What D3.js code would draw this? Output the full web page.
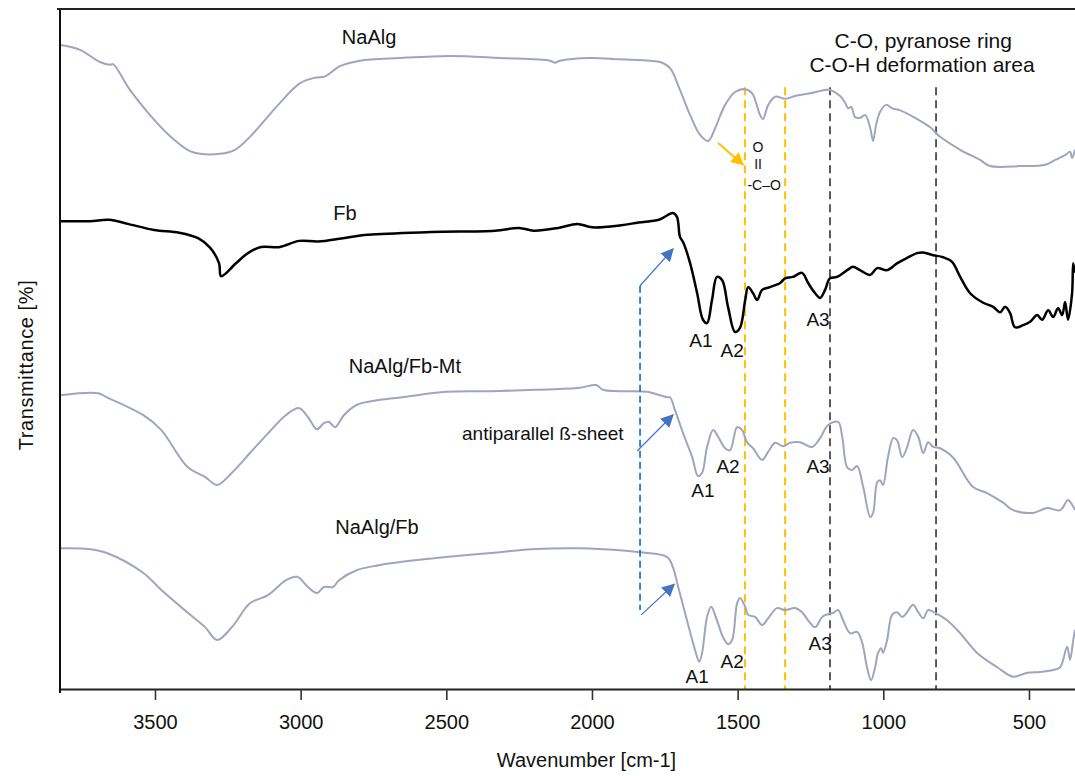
<!DOCTYPE html>
<html>
<head>
<meta charset="utf-8">
<script src="https://cdn.jsdelivr.net/npm/d3@7"></script>
<style>
  body { margin: 0; background: #fff; }
  text { font-family: "Liberation Sans", Arial, sans-serif; fill: #111; }
</style>
</head>
<body>
<svg id="chart" width="1075" height="776"></svg>
<script>
"use strict";

// spectra, [wavenumber cm-1, transmittance (stacked, %)]
var naAlg = [
  [3826, 94.7], [3757, 94.0], [3689, 92.2], [3654, 91.8], [3644, 91.9], [3586, 88.1],
  [3517, 84.4], [3448, 81.3], [3380, 79.1], [3345, 78.7], [3277, 78.7], [3225, 79.3],
  [3174, 81.2], [3122, 83.7], [3071, 86.2], [3002, 89.1], [2951, 89.9], [2916, 90.1],
  [2865, 91.6], [2796, 92.4], [2659, 92.8], [2487, 93.1], [2316, 92.8], [2144, 92.4],
  [2127, 92.1], [2110, 92.4], [2007, 92.8], [1904, 92.6], [1801, 92.4], [1766, 92.2],
  [1732, 91.3], [1698, 88.1], [1663, 84.4], [1629, 81.5], [1601, 80.6], [1577, 82.5],
  [1543, 85.9], [1509, 87.8], [1474, 88.2], [1450, 87.6], [1423, 84.4], [1413, 83.8],
  [1395, 85.9], [1371, 87.1], [1337, 86.8], [1303, 87.2], [1251, 87.6], [1200, 88.1],
  [1183, 88.1], [1148, 87.2], [1131, 86.2], [1121, 85.4], [1110, 85.6], [1097, 84.1],
  [1080, 84.0], [1062, 84.4], [1045, 82.5], [1035, 80.6], [1025, 82.9], [1011, 84.9],
  [990, 85.9], [970, 85.4], [942, 85.1], [891, 84.0], [839, 82.6], [805, 81.2],
  [736, 79.3], [668, 77.8], [633, 76.9], [530, 76.9], [444, 77.1], [410, 77.8],
  [376, 78.5], [359, 79.0], [352, 78.1], [342, 79.3]
];

var fb = [
  [3826, 68.8], [3723, 68.8], [3658, 69.0], [3593, 68.4], [3503, 67.5], [3417, 67.1],
  [3352, 66.3], [3311, 64.9], [3280, 62.6], [3273, 60.7], [3222, 62.6], [3181, 64.1],
  [3136, 65.0], [3071, 65.0], [3005, 65.9], [2940, 65.8], [2855, 66.3], [2769, 66.8],
  [2552, 67.2], [2333, 67.4], [2250, 67.8], [2200, 67.4], [2116, 67.8], [2050, 68.4],
  [2000, 67.9], [1900, 68.2], [1840, 68.6], [1770, 69.0], [1722, 70.0], [1708, 69.4],
  [1698, 66.5], [1687, 65.7], [1663, 62.6], [1639, 58.2], [1619, 54.3], [1605, 53.8],
  [1588, 57.2], [1571, 60.6], [1553, 60.1], [1533, 56.2], [1509, 52.5], [1492, 53.1],
  [1474, 57.2], [1464, 59.1], [1447, 58.2], [1433, 57.2], [1416, 58.7], [1389, 59.1],
  [1354, 59.7], [1337, 60.4], [1310, 60.6], [1279, 61.2], [1258, 59.7], [1234, 58.2],
  [1217, 57.5], [1200, 58.7], [1183, 60.4], [1159, 60.6], [1124, 61.6], [1104, 62.1],
  [1080, 61.6], [1045, 60.9], [1021, 61.9], [987, 61.6], [953, 62.6], [918, 63.4],
  [884, 64.1], [863, 64.2], [829, 63.8], [795, 63.5], [764, 62.8], [736, 60.6],
  [702, 58.2], [657, 56.8], [623, 56.2], [599, 55.4], [582, 56.2], [565, 55.3],
  [548, 53.2], [520, 53.5], [496, 54.0], [472, 55.0], [455, 54.3], [434, 55.7],
  [417, 54.7], [400, 56.0], [386, 55.0], [376, 56.9], [366, 54.3], [352, 58.2],
  [348, 62.6], [342, 61.2]
];

var naAlgFbMt = [
  [3826, 43.2], [3696, 43.5], [3665, 42.9], [3541, 40.3], [3479, 38.1], [3387, 32.6],
  [3328, 31.2], [3287, 30.0], [3236, 31.8], [3174, 34.7], [3112, 37.6], [3050, 40.3],
  [3005, 41.3], [2975, 40.0], [2944, 38.2], [2920, 39.1], [2903, 39.3], [2882, 38.5],
  [2851, 40.3], [2806, 41.8], [2731, 42.5], [2652, 42.9], [2501, 43.7], [2346, 43.8],
  [2192, 44.0], [2041, 44.3], [1986, 44.7], [1962, 44.0], [1904, 43.8], [1811, 43.7],
  [1742, 42.9], [1732, 42.9], [1715, 41.0], [1687, 37.6], [1656, 34.1], [1636, 31.3],
  [1622, 31.8], [1605, 35.6], [1584, 38.1], [1567, 37.1], [1543, 35.4], [1526, 35.1],
  [1502, 38.5], [1485, 38.1], [1468, 36.3], [1447, 35.4], [1416, 33.7], [1395, 34.9],
  [1371, 36.2], [1344, 35.7], [1320, 36.2], [1286, 36.3], [1244, 35.6], [1217, 36.9],
  [1190, 38.8], [1155, 39.3], [1141, 37.1], [1124, 32.6], [1107, 32.2], [1090, 32.8],
  [1069, 29.7], [1045, 25.3], [1035, 25.9], [1021, 30.4], [1011, 30.7], [1001, 30.0],
  [984, 34.1], [966, 36.9], [953, 36.6], [935, 34.1], [918, 35.6], [898, 38.1],
  [880, 37.1], [863, 34.7], [846, 36.3], [829, 35.6], [805, 35.4], [760, 34.0],
  [692, 29.7], [644, 28.8], [589, 27.4], [554, 26.3], [486, 25.9], [438, 26.6],
  [393, 26.3], [366, 27.8], [352, 27.1], [342, 26.3]
];

var naAlgFb = [
  [3826, 20.7], [3727, 20.6], [3665, 20.0], [3541, 17.1], [3479, 14.6], [3387, 11.2],
  [3328, 9.1], [3287, 7.2], [3236, 9.1], [3174, 12.6], [3112, 13.8], [3050, 16.0],
  [3012, 16.5], [2975, 15.0], [2944, 14.1], [2920, 15.0], [2889, 15.0], [2868, 16.0],
  [2806, 17.5], [2731, 18.2], [2652, 18.7], [2501, 19.4], [2346, 20.0], [2192, 20.6],
  [2041, 20.7], [1904, 20.4], [1835, 20.1], [1742, 19.4], [1722, 17.9], [1704, 15.0],
  [1674, 10.1], [1646, 5.7], [1632, 4.0], [1622, 5.3], [1605, 10.6], [1591, 12.1],
  [1571, 10.1], [1550, 7.6], [1533, 6.6], [1519, 7.2], [1502, 12.6], [1492, 13.4],
  [1474, 12.1], [1464, 10.9], [1440, 10.6], [1416, 9.4], [1395, 10.4], [1365, 11.9],
  [1337, 11.6], [1303, 11.9], [1279, 11.3], [1258, 10.1], [1234, 9.1], [1210, 10.6],
  [1190, 11.0], [1172, 11.2], [1155, 11.6], [1138, 10.1], [1114, 8.2], [1090, 8.4],
  [1073, 6.9], [1056, 3.2], [1042, 1.3], [1028, 3.2], [1018, 5.3], [1007, 6.0],
  [1001, 5.3], [987, 7.2], [970, 10.9], [953, 11.3], [935, 10.6], [918, 11.3],
  [898, 12.4], [880, 11.3], [863, 10.4], [846, 11.6], [822, 11.2], [781, 10.1],
  [736, 8.2], [678, 5.3], [609, 3.2], [554, 1.8], [506, 2.4], [462, 2.5],
  [417, 2.8], [393, 3.2], [369, 6.2], [359, 4.3], [348, 7.2], [342, 8.7]
];

var xTicks = [3500, 3000, 2500, 2000, 1500, 1000, 500];
var carboxylLines = [1475, 1337];      // yellow dashed
var pyranoseLines = [1183, 819];       // black dashed

// text annotations [wavenumber, T, text]
var curveLabels = [
  [2765, 94.9, "NaAlg"],
  [2848, 69.0, "Fb"],
  [2642, 46.5, "NaAlg/Fb-Mt"],
  [2738, 22.8, "NaAlg/Fb"]
];
var bandLabels = [
  [1626, 50.3, "A1"], [1519, 48.8, "A2"], [1224, 53.4, "A3"],
  [1619, 28.2, "A1"], [1533, 31.8, "A2"], [1224, 31.8, "A3"],
  [1639, 0.9, "A1"], [1519, 3.1, "A2"], [1217, 5.7, "A3"]
];
var sheetArrows = [
  [1835, 59.3, 1722, 64.7],
  [1845, 35.0, 1722, 40.3],
  [1831, 10.9, 1718, 15.4]
];

var plot = { left: 60, right: 1075, top: 9, bottom: 689 };

var svg = d3.select("#chart");

var x = d3.scaleLinear().domain([3826, 342]).range([plot.left, plot.right]);
var y = d3.scaleLinear().domain([0, 100]).range([plot.bottom, plot.top]);

var defs = svg.append("defs");
defs.append("clipPath").attr("id", "clip")
  .append("rect")
  .attr("x", plot.left).attr("y", plot.top)
  .attr("width", plot.right - plot.left).attr("height", plot.bottom - plot.top);

function arrowHead(id, color, size) {
  defs.append("marker")
    .attr("id", id)
    .attr("viewBox", "0 0 10 10")
    .attr("refX", 9).attr("refY", 5)
    .attr("markerUnits", "userSpaceOnUse")
    .attr("markerWidth", size).attr("markerHeight", size)
    .attr("orient", "auto")
    .append("path")
    .attr("d", "M0,0 L10,5 L0,10 z")
    .attr("fill", color);
}
arrowHead("blueHead", "#4472c4", 13);
arrowHead("yellowHead", "#ffc000", 13);

// reference bands
var bands = svg.append("g");
bands.selectAll(".yl").data(carboxylLines).enter().append("line")
  .attr("x1", d => x(d)).attr("x2", d => x(d))
  .attr("y1", y(88.5)).attr("y2", y(0))
  .attr("stroke", "#ffc000").attr("stroke-width", 2)
  .attr("stroke-dasharray", "8,5");
bands.selectAll(".bl").data(pyranoseLines).enter().append("line")
  .attr("x1", d => x(d)).attr("x2", d => x(d))
  .attr("y1", y(88.5)).attr("y2", y(0))
  .attr("stroke", "#333").attr("stroke-width", 1.6)
  .attr("stroke-dasharray", "8,5");

// spectra
var line = d3.line()
  .x(d => x(d[0]))
  .y(d => y(d[1]))
  .curve(d3.curveCatmullRom.alpha(0.5));

var series = [
  { data: naAlg, color: "#a0a5bd", width: 2 },
  { data: fb, color: "#000", width: 2.5 },
  { data: naAlgFbMt, color: "#a0a5bd", width: 2 },
  { data: naAlgFb, color: "#a0a5bd", width: 2 }
];

svg.append("g").attr("clip-path", "url(#clip)")
  .selectAll("path").data(series).enter().append("path")
  .attr("d", d => line(d.data))
  .attr("fill", "none")
  .attr("stroke", d => d.color)
  .attr("stroke-width", d => d.width)
  .attr("stroke-linejoin", "round");

// blue dashed guide + arrows (antiparallel beta-sheet)
svg.append("line")
  .attr("x1", x(1835)).attr("x2", x(1835))
  .attr("y1", y(59.3)).attr("y2", y(11.6))
  .attr("stroke", "#0070c0").attr("stroke-width", 1.6)
  .attr("stroke-dasharray", "7,4");

svg.selectAll(".sheetArrow").data(sheetArrows).enter().append("line")
  .attr("x1", d => x(d[0])).attr("y1", d => y(d[1]))
  .attr("x2", d => x(d[2])).attr("y2", d => y(d[3]))
  .attr("stroke", "#4472c4").attr("stroke-width", 1.2)
  .attr("marker-end", "url(#blueHead)");

// yellow arrow to carboxylate
svg.append("line")
  .attr("x1", x(1567)).attr("y1", y(80.3))
  .attr("x2", x(1481)).attr("y2", y(77.1))
  .attr("stroke", "#ffc000").attr("stroke-width", 2)
  .attr("marker-end", "url(#yellowHead)");

// axes
var xAxis = d3.axisBottom(x)
  .tickValues(xTicks)
  .tickFormat(d3.format("d"))
  .tickSize(11).tickSizeOuter(0).tickPadding(15);
var gx = svg.append("g").attr("transform", "translate(0," + plot.bottom + ")").call(xAxis);
gx.select(".domain").attr("stroke", "#222").attr("stroke-width", 2);
gx.selectAll(".tick line").attr("stroke", "#333").attr("stroke-width", 1.6);
gx.selectAll(".tick text")
  .style("font-family", "'Liberation Sans', Arial, sans-serif")
  .style("font-size", "20px").attr("fill", "#111");

svg.append("line")
  .attr("x1", plot.left).attr("x2", plot.left)
  .attr("y1", plot.top - 1).attr("y2", plot.bottom + 4)
  .attr("stroke", "#111").attr("stroke-width", 2);
svg.append("line")
  .attr("x1", plot.left - 3).attr("x2", plot.right)
  .attr("y1", plot.top).attr("y2", plot.top)
  .attr("stroke", "#222").attr("stroke-width", 2);

svg.append("text")
  .attr("x", (plot.left + plot.right) / 2 + 19).attr("y", 767)
  .attr("text-anchor", "middle").style("font-size", "20px")
  .text("Wavenumber [cm-1]");

svg.append("text")
  .attr("transform", "translate(33,365) rotate(-90)")
  .attr("text-anchor", "middle").style("font-size", "20px")
  .style("letter-spacing", "0.6px")
  .text("Transmittance [%]");

// labels
svg.selectAll(".curveLabel").data(curveLabels).enter().append("text")
  .attr("x", d => x(d[0])).attr("y", d => y(d[1]))
  .attr("text-anchor", "middle").style("font-size", "20px")
  .text(d => d[2]);

svg.selectAll(".bandLabel").data(bandLabels).enter().append("text")
  .attr("x", d => x(d[0])).attr("y", d => y(d[1]))
  .attr("text-anchor", "middle").style("font-size", "19px")
  .text(d => d[2]);

svg.append("text")
  .attr("x", x(2446)).attr("y", y(36.6))
  .style("font-size", "19px")
  .text("antiparallel  ß-sheet");

svg.append("text")
  .attr("x", x(863)).attr("y", y(94.3))
  .attr("text-anchor", "middle").style("font-size", "21px")
  .text("C-O, pyranose ring");
svg.append("text")
  .attr("x", x(867)).attr("y", y(90.7))
  .attr("text-anchor", "middle").style("font-size", "21px")
  .text("C-O-H deformation area");

// carboxylate group sketch
var coo = svg.append("g").style("font-size", "14px").attr("text-anchor", "middle");
coo.append("text").attr("x", x(1430)).attr("y", y(79.0)).text("O");
coo.append("text").attr("x", x(1430)).attr("y", y(76.5)).text("II");
coo.append("text").attr("x", x(1409)).attr("y", y(73.4)).text("-C–O");
</script>
</body>
</html>
